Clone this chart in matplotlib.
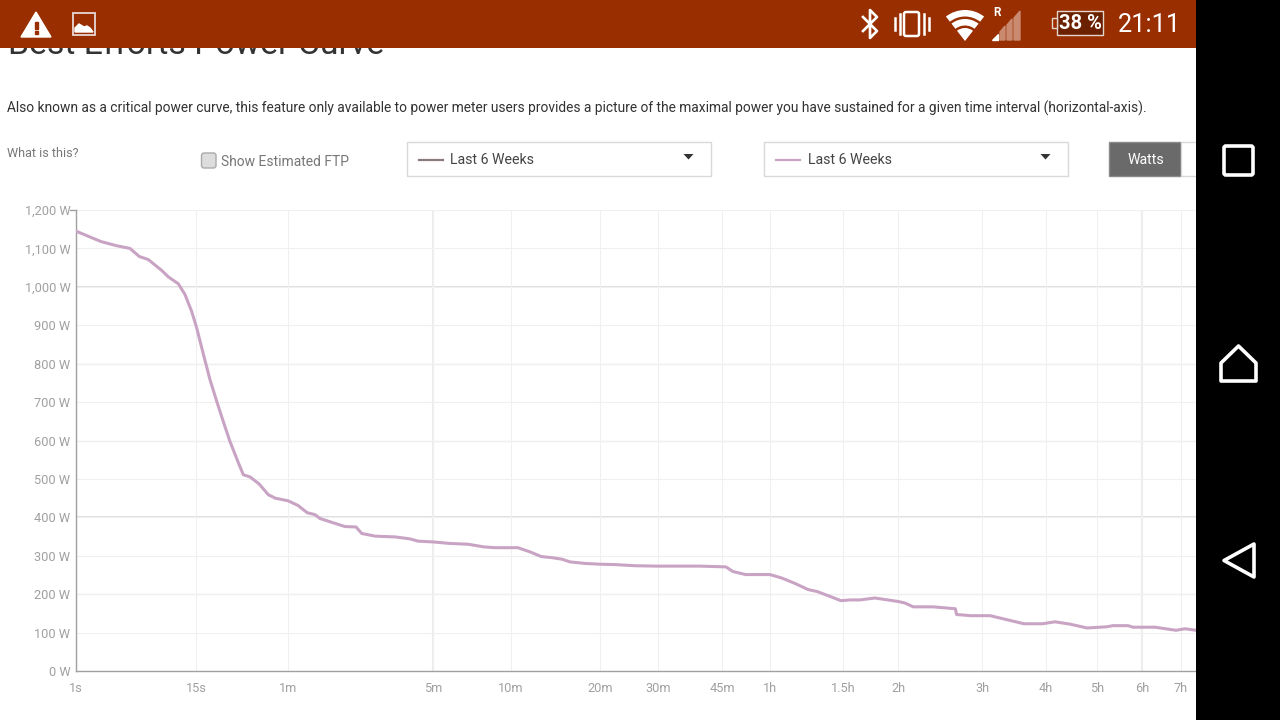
"""Best Efforts Power Curve, seen in a phone screenshot."""
import numpy as np
import matplotlib
matplotlib.use("Agg")
import matplotlib.pyplot as plt
from matplotlib.patches import Rectangle, FancyBboxPatch, Polygon, Wedge

plt.rcParams["font.family"] = ["Roboto", "DejaVu Sans"]

# ── Data ───────────────────────────────────────────────────────
tick_seconds = [1, 15, 60, 300, 600, 1200, 1800, 2700, 3600, 5400, 7200,
                10800, 14400, 18000, 21600, 25200]
tick_labels = ["1s", "15s", "1m", "5m", "10m", "20m", "30m", "45m", "1h",
               "1.5h", "2h", "3h", "4h", "5h", "6h", "7h"]
watt_ticks = list(range(0, 1300, 100))

seconds = [1, 1.75, 2.5, 3.38, 4.17, 5.11, 6.9, 8.03, 10.06, 11.7, 13.6, 15.16,
           16.9, 18.5, 20.5, 22.6, 25.0, 28.4, 30.6, 33.9, 38.8, 44.6, 49.4,
           60.1, 67, 74.3, 81, 85.5, 98.8, 113, 127.6, 136, 158, 197, 232, 254,
           300, 349, 409, 472, 520, 633, 696, 759, 826, 892, 950, 1067, 1200,
           1331, 1536, 1800, 2348, 2765, 2882, 3110, 3600, 3844, 4135, 4448,
           4674, 5030, 5340, 5600, 5900, 6380, 7200, 7445, 7750, 8530, 9500,
           9550, 10240, 11200, 12040, 13040, 14170, 14980, 15990, 17230, 18720,
           19190, 20410, 20830, 22730, 24700, 25600, 26750]
watts = [1145, 1118, 1107, 1100, 1079, 1071, 1043, 1026, 1008, 980, 936, 893,
         819, 759, 702, 650, 598, 542, 511, 505, 487, 459, 450,
         443, 431, 412, 407, 397, 386, 376, 375, 358, 351, 349, 344, 338,
         336, 332, 330, 323, 321, 321, 310, 298, 295, 291, 284, 280, 278,
         277, 274, 273, 273, 271, 259, 251, 251, 242, 228, 212,
         207, 194, 183, 185, 185, 190, 181, 177, 167, 167, 162,
         147, 144, 144, 134, 123, 123, 128, 122, 112, 115,
         118, 118, 114, 114, 106, 110, 106]

# The site's time axis is only roughly logarithmic, so it is stretched per tick
tick_px = [76, 196, 288, 433, 511, 600, 658, 722, 770, 843, 898, 982, 1046,
           1097, 1142, 1181, 1196]
scale_seconds = np.log(tick_seconds + [26750])


def time_to_px(t):
    return np.interp(np.log(np.maximum(t, 1e-3)), scale_seconds, tick_px)


def px_to_time(p):
    return np.exp(np.interp(p, tick_px, scale_seconds))


# ── Chart ──────────────────────────────────────────────────────
fig = plt.figure(figsize=(12.8, 7.2), dpi=100, facecolor="white")
W, H = 1280, 720
ax = fig.add_axes([76 / W, 1 - 671 / H, 1120 / W, 461 / H])
ax.set_xscale("function", functions=(time_to_px, px_to_time))
ax.set_xlim(1, 26750)
ax.set_ylim(0, 1200)

ax.set_xticks(tick_seconds)
ax.set_xticklabels(tick_labels)
ax.xaxis.set_minor_locator(matplotlib.ticker.NullLocator())
ax.set_yticks(watt_ticks)
ax.set_yticklabels([f"{v:,} W" for v in watt_ticks])
ax.tick_params(length=0, labelsize=9.2, labelcolor="#a0a0a0", pad=4)
ax.tick_params(axis="x", pad=8)

ax.grid(True, color="#f0f0f0", lw=0.8)
ax.set_axisbelow(True)
for v in [1000, 400]:
    ax.axhline(v, color="#dddddd", lw=1.3, zorder=0.5)
for v in [800, 600, 200]:
    ax.axhline(v, color="#e6e6e6", lw=0.9, zorder=0.5)
for v in [300, 21600]:
    ax.axvline(v, color="#ececec", lw=1.5, zorder=0.5)

for s in ["top", "right"]:
    ax.spines[s].set_visible(False)
for s in ["left", "bottom"]:
    ax.spines[s].set_color("#a0a0a0")
    ax.spines[s].set_linewidth(1.0)

ax.plot(seconds, watts, color="#c9a3c4", lw=2.2, solid_joinstyle="round", zorder=3)

# ── Page and phone furniture, in screen pixels ─────────────────
ui = fig.add_axes([0, 0, 1, 1], facecolor="none")
ui.set_xlim(0, W)
ui.set_ylim(H, 0)
ui.axis("off")

ui.plot([70, 76], [210, 210], color="#a0a0a0", lw=1.0)

ui.text(8, 54, "Best Efforts Power Curve", fontsize=24.3, color="#333333", va="baseline")
ui.text(7, 108.5, "Also known as a critical power curve, this feature only available to "
        "power meter users provides a picture of the maximal power you have sustained "
        "for a given time interval (horizontal-axis).",
        fontsize=9.9, color="#333333", va="center")
ui.text(7, 153.5, "What is this?", fontsize=9, color="#777777", va="center")

ui.add_patch(FancyBboxPatch((201.5, 153), 14.5, 15, boxstyle="round,pad=0,rounding_size=2.5",
                            fc="#dddddd", ec="#aaaaaa", lw=1))
ui.text(221, 161.5, "Show Estimated FTP", fontsize=10.0, color="#777777", va="center")

for x0, col in [(407, "#8a7a7a"), (764, "#c9a3c4")]:
    ui.add_patch(Rectangle((x0, 142), 304, 34, fc="white", ec="#dcd8d8", lw=1))
    ui.plot([x0 + 12, x0 + 36], [160, 160], color=col, lw=1.6)
    ui.text(x0 + 43.5, 159.5, "Last 6 Weeks", fontsize=10.2, color="#444444", va="center")
    ui.add_patch(Polygon([[x0 + 276.5, 154], [x0 + 286.5, 154], [x0 + 281.5, 159.5]],
                         fc="#333333", ec="none"))

ui.add_patch(Rectangle((1109, 142), 72, 34, fc="#6a6a6a", ec="#8a8a8a", lw=1))
ui.add_patch(Rectangle((1181, 142), 20, 34, fc="white", ec="#dcd8d8", lw=1))
ui.text(1145.5, 159.5, "Watts", fontsize=10.2, color="white", ha="center", va="center")

# status bar
bar = "#992e00"
ui.add_patch(Rectangle((0, 0), W, 48, fc=bar, ec="none", zorder=5))
ui.add_patch(Polygon([[21, 37], [51, 37], [36, 12]], color="white", zorder=6))
ui.add_patch(Rectangle((34.5, 22), 3, 7, color=bar, zorder=7))
ui.add_patch(Rectangle((34.5, 31), 3, 3, color=bar, zorder=7))
ui.add_patch(Rectangle((73, 13), 22, 22, fc="none", ec="#e8d8d8", lw=1.3, zorder=6))
ui.add_patch(Polygon([[75, 32], [75, 28], [79, 24], [84, 27], [87, 26], [90, 28], [93, 32]],
                     color="white", zorder=6))

ui.plot([863, 877, 870, 870, 877, 863], [17, 31, 38, 10, 17, 31], color="white", lw=1.9, zorder=6)

ui.add_patch(FancyBboxPatch((904, 12), 15, 24, boxstyle="round,pad=0,rounding_size=2",
                            fc="none", ec="white", lw=1.8, zorder=6))
for x, top, bottom in [(895, 18, 30), (899.5, 14, 34), (924, 14, 34), (928.5, 18, 30)]:
    ui.plot([x, x], [top, bottom], color="white", lw=1.8, zorder=6)

for r, w in [(31, 6.5), (22, 6.5), (13, 13)]:
    ui.add_patch(Wedge((965, 41), r, 232, 308, width=w, fc="white", ec="none", zorder=6))

sig_x = [992, 999, 1006, 1013, 1021]
sig_top = [40, 33, 26, 19, 11]
ui.add_patch(Polygon([[992, 40], [998, 40], [998, 34]], color="white", zorder=6))
for i in range(1, 4):
    xa, xb = sig_x[i] + 1, sig_x[i + 1] - 1
    ui.add_patch(Polygon([[xa, 40], [xb, 40], [xb, sig_top[i + 1]], [xa, sig_top[i] - 1]],
                         color="#c98a70", zorder=6))
ui.text(997.5, 12, "R", fontsize=8.5, fontweight="bold", color="white", ha="center",
        va="center", zorder=6)

ui.add_patch(Rectangle((1057, 11), 46, 24, fc="#6b2000", ec="#e5d5cc", lw=1, zorder=6))
ui.add_patch(Rectangle((1052, 18), 5, 10, fc=bar, ec="#e5d5cc", lw=1, zorder=6))
ui.text(1080, 23.5, "38 %", fontsize=14.5, fontweight="bold", color="white", ha="center",
        va="center", zorder=7)
ui.text(1149, 25, "21:11", fontsize=18.3, color="white", ha="center", va="center", zorder=6)

# navigation bar
ui.add_patch(Rectangle((1196, 0), 84, H, fc="black", ec="none", zorder=5))
ui.add_patch(FancyBboxPatch((1224, 146), 29, 29, boxstyle="round,pad=0,rounding_size=2",
                            fc="none", ec="white", lw=2.6, zorder=6))
ui.add_patch(Polygon([[1221, 381], [1221, 363], [1238.5, 346], [1256, 363], [1256, 381]],
                     closed=True, fc="none", ec="white", lw=2.6, joinstyle="round", zorder=6))
ui.add_patch(Polygon([[1254, 544], [1254, 577], [1224, 560.5]], closed=True, fc="none",
                     ec="white", lw=2.6, joinstyle="round", zorder=6))

fig.savefig("out.png", dpi=100)
